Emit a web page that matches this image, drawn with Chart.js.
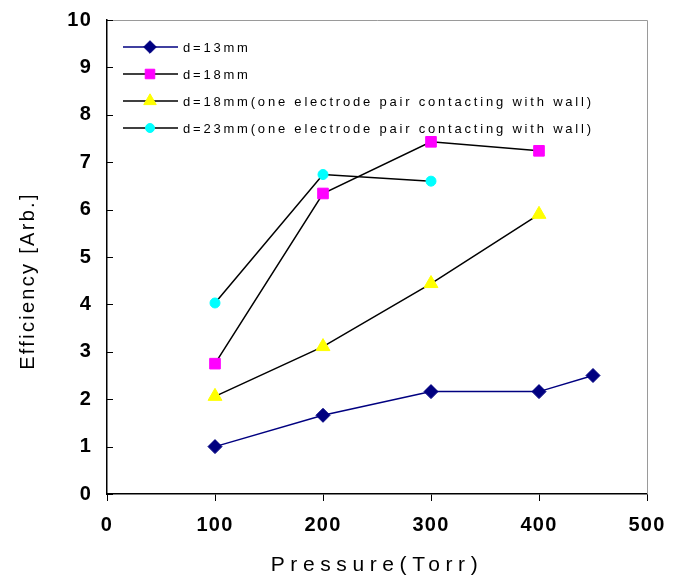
<!DOCTYPE html>
<html><head><meta charset="utf-8">
<script src="https://cdn.jsdelivr.net/npm/chart.js@4/dist/chart.umd.min.js"></script>
<style>html,body{margin:0;padding:0;background:#fff}#wrap{width:676px;height:581px}</style>
</head><body><div id="wrap"><canvas id="c" width="676" height="581"></canvas></div>
<script>
// ---- data ----
const seriesLabels = [
  'd=13mm',
  'd=18mm',
  'd=18mm(one electrode pair contacting with wall)',
  'd=23mm(one electrode pair contacting with wall)'
];
const pressure13 = [100, 200, 300, 400, 450];
const eff13 = [1.0, 1.66, 2.16, 2.16, 2.50];
const pressure18 = [100, 200, 300, 400];
const eff18 = [2.75, 6.34, 7.43, 7.24];
const pressure18wall = [100, 200, 300, 400];
const eff18wall = [2.06, 3.11, 4.44, 5.90];
const pressure23wall = [100, 200, 300];
const eff23wall = [4.03, 6.74, 6.60];
const xTickValues = [0, 100, 200, 300, 400, 500];
const yTickValues = [0, 1, 2, 3, 4, 5, 6, 7, 8, 9, 10];
const xTitle = 'Pressure(Torr)';
const yTitle = 'Efficiency [Arb.]';

const toPts = (xs, ys) => xs.map((x, i) => ({x: x, y: ys[i]}));

const datasets = [
  {label: seriesLabels[0], data: toPts(pressure13, eff13), borderColor: '#000080', backgroundColor: '#000080',
   pointStyle: 'rectRot', pointRadius: 7, pointBorderColor: '#000080', pointBackgroundColor: '#000080'},
  {label: seriesLabels[1], data: toPts(pressure18, eff18), borderColor: '#000000', backgroundColor: '#ff00ff',
   pointStyle: 'rect', pointRadius: 7.5, pointBorderColor: '#ff00ff', pointBackgroundColor: '#ff00ff'},
  {label: seriesLabels[2], data: toPts(pressure18wall, eff18wall), borderColor: '#000000', backgroundColor: '#ffff00',
   pointStyle: 'triangle', pointRadius: 8, pointBorderColor: '#ffff00', pointBackgroundColor: '#ffff00'},
  {label: seriesLabels[3], data: toPts(pressure23wall, eff23wall), borderColor: '#000000', backgroundColor: '#00ffff',
   pointStyle: 'circle', pointRadius: 5, pointBorderColor: '#00ffff', pointBackgroundColor: '#00ffff'}
];
datasets.forEach(d => { d.borderWidth = 1.5; d.pointBorderWidth = 1; d.showLine = true; d.fill = false; d.tension = 0; });

const spacingPlugin = {
  id: 'spacing',
  afterLayout(chart) {
    const cfg = {x: {labels: '1.2px', title: '5.6px', shift: 0}, y: {labels: '1.2px', title: '2.3px', shift: 24}};
    Object.keys(cfg).forEach(k => {
      const s = chart.scales[k];
      if (!s || s._spWrapped) return;
      s._spWrapped = true;
      const dl = s.drawLabels, dt = s.drawTitle;
      s.drawLabels = function () { const c = this.ctx; c.save(); c.letterSpacing = cfg[k].labels; dl.apply(this, arguments); c.restore(); };
      s.drawTitle = function () { const c = this.ctx; c.save(); c.letterSpacing = cfg[k].title; c.translate(0, cfg[k].shift); dt.apply(this, arguments); c.restore(); };
    });
  }
};

const framePlugin = {
  id: 'frame',
  afterDraw(chart) {
    const ctx = chart.ctx, a = chart.chartArea, ys = chart.scales.y;
    ctx.save();
    // gray top & right frame
    ctx.strokeStyle = '#9a9a9a'; ctx.lineWidth = 1;
    ctx.beginPath();
    ctx.moveTo(a.left, a.top + 0.5); ctx.lineTo(a.right + 0.5, a.top + 0.5); ctx.lineTo(a.right + 0.5, a.bottom);
    ctx.stroke();
    // inward y ticks
    ctx.strokeStyle = '#000'; ctx.beginPath();
    yTickValues.forEach(v => {
      const py = Math.round(ys.getPixelForValue(v)) + 0.5;
      ctx.moveTo(a.left, py); ctx.lineTo(a.left + 6, py);
    });
    ctx.stroke();
    // legend
    ctx.font = '13px "Liberation Sans", Arial, sans-serif';
    ctx.letterSpacing = '2.8px';
    ctx.textBaseline = 'middle'; ctx.textAlign = 'left'; ctx.fillStyle = '#000';
    chart.data.datasets.forEach((d, i) => {
      const y = 47 + i * 27;
      ctx.strokeStyle = d.borderColor; ctx.lineWidth = 1.5;
      ctx.beginPath(); ctx.moveTo(123, y); ctx.lineTo(178, y); ctx.stroke();
      ctx.fillStyle = d.pointBackgroundColor; ctx.strokeStyle = d.pointBorderColor; ctx.lineWidth = 1;
      Chart.helpers.drawPoint(ctx, {pointStyle: d.pointStyle, radius: d.pointRadius * 0.9, rotation: 0, borderWidth: 1}, 150, y);
      ctx.fillStyle = '#000';
      ctx.fillText(d.label, 183, y + 1);
    });
    ctx.restore();
  }
};

new Chart(document.getElementById('c'), {
  type: 'scatter',
  data: {datasets: datasets},
  options: {
    responsive: false,
    animation: false,
    devicePixelRatio: 1,
    layout: {padding: {top: 20, right: 29, left: 0, bottom: 0}},
    plugins: {legend: {display: false}, tooltip: {enabled: false}},
    scales: {
      x: {
        type: 'linear', min: 0, max: 500,
        afterFit: s => { s.height = 87; s.paddingLeft = 0; s.paddingRight = 0; },
        afterBuildTicks: s => { s.ticks = xTickValues.map(v => ({value: v})); },
        grid: {display: true, drawOnChartArea: false, drawTicks: true, tickLength: 7, color: '#000', tickColor: '#000'},
        border: {display: true, color: '#000', width: 1.5},
        ticks: {color: '#000', padding: 12, font: {family: '"Liberation Sans", Arial, sans-serif', size: 20, weight: 'bold'}, maxRotation: 0},
        title: {display: true, text: xTitle, color: '#000', padding: {top: 0, bottom: 3},
                font: {family: '"Liberation Sans", Arial, sans-serif', size: 21, weight: 'normal'}}
      },
      y: {
        type: 'linear', min: 0, max: 10,
        afterFit: s => { s.width = 107; s.paddingTop = 0; s.paddingBottom = 0; },
        afterBuildTicks: s => { s.ticks = yTickValues.map(v => ({value: v})); },
        grid: {display: false, drawTicks: false},
        border: {display: true, color: '#000', width: 1.5},
        ticks: {color: '#000', padding: 15, font: {family: '"Liberation Sans", Arial, sans-serif', size: 20, weight: 'bold'}},
        title: {display: true, text: yTitle, color: '#000', padding: {top: 16, bottom: 0},
                font: {family: '"Liberation Sans", Arial, sans-serif', size: 20, weight: 'normal'}}
      }
    }
  },
  plugins: [spacingPlugin, framePlugin]
});
</script></body></html>
